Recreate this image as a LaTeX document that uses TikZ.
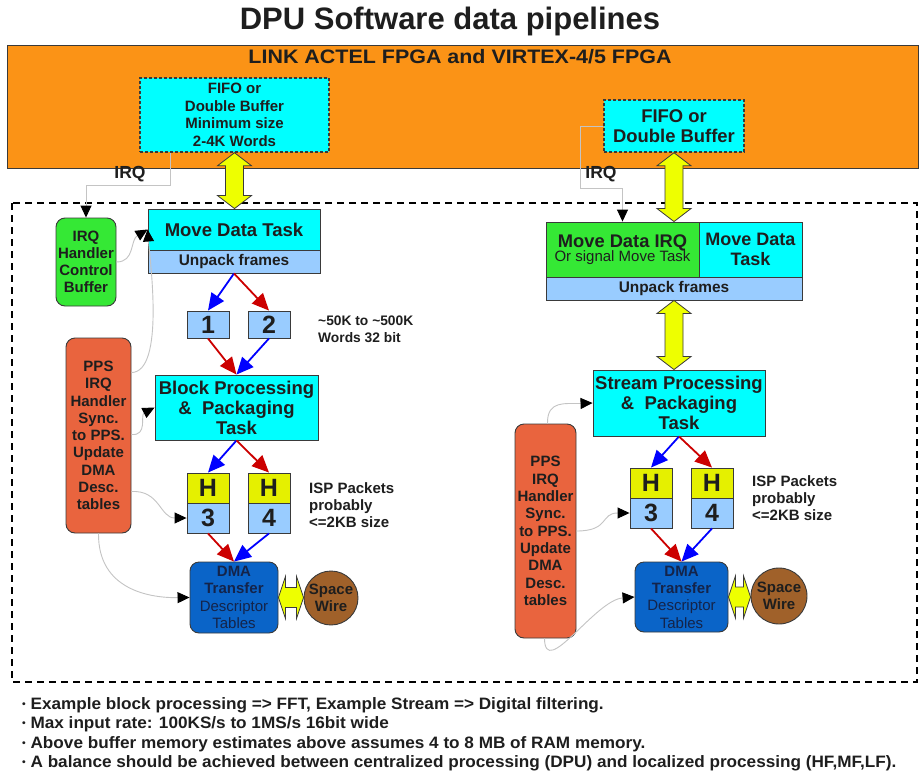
\documentclass[tikz,border=0pt]{standalone}
\usepackage{fontspec}
\setmainfont{Liberation Sans}
\usetikzlibrary{arrows.meta,calc}
\definecolor{orangebg}{HTML}{FB9316}
\definecolor{cyanc}{HTML}{00FFFF}
\definecolor{lblue}{HTML}{99CCFF}
\definecolor{greenc}{HTML}{35E835}
\definecolor{ppsc}{HTML}{E9643E}
\definecolor{dmac}{HTML}{0A64C8}
\definecolor{brownc}{HTML}{A0612A}
\definecolor{yarr}{HTML}{EEFF00}
\definecolor{hyel}{HTML}{E5F000}
\definecolor{redarr}{HTML}{CC0000}
\definecolor{bluearr}{HTML}{0000FF}
\definecolor{txt}{HTML}{1E1E1E}
\definecolor{boxline}{HTML}{3A3A3A}
\definecolor{grayline}{HTML}{C4C4C4}
\definecolor{dmatxt}{HTML}{14244A}
\newcommand\fsb[2]{\fontsize{#1}{#2}\selectfont\bfseries}
\newcommand\smbul{\raisebox{1.3pt}{\fontsize{10}{10}\selectfont\textbullet}}
\newcommand\vdarr[2]{\filldraw[yarrst] let \p1=#1,\p2=#2 in
 (\x1,\y1) -- (\x1+17pt,\y1-13pt) -- (\x1+9pt,\y1-13pt) -- (\x1+9pt,\y2+13pt) -- (\x1+17pt,\y2+13pt)
 -- (\x1,\y2) -- (\x1-17pt,\y2+13pt) -- (\x1-9pt,\y2+13pt) -- (\x1-9pt,\y1-13pt) -- (\x1-17pt,\y1-13pt) -- cycle;}
\newcommand\hdarr[2]{\filldraw[yarrst] let \p1=#1,\p2=#2 in
 (\x1,\y1) -- (\x1+7pt,\y1+21pt) -- (\x1+7pt,\y1+10pt) -- (\x2-7pt,\y1+10pt) -- (\x2-7pt,\y1+21pt)
 -- (\x2,\y1) -- (\x2-7pt,\y1-21pt) -- (\x2-7pt,\y1-10pt) -- (\x1+7pt,\y1-10pt) -- (\x1+7pt,\y1-21pt) -- cycle;}
\begin{document}
\begin{tikzpicture}[x=1pt,y=-1pt,
  box/.style={draw=boxline, line width=0.9pt, inner sep=0pt, align=center, text=txt},
  rbox/.style={box, rounded corners=9pt},
  yarrst/.style={fill=yarr, draw=boxline, line width=0.8pt},
  rarr/.style={draw=redarr, line width=1.8pt, -{Triangle[length=17pt,width=15pt]}},
  barr/.style={draw=bluearr, line width=1.8pt, -{Triangle[length=17pt,width=15pt]}},
  gline/.style={draw=grayline, line width=0.9pt, -{Triangle[length=12pt,width=11pt,color=black,fill=black]}},
  lbl/.style={text=txt, align=left, inner sep=0pt},
  bul/.style={text=txt, anchor=west, inner sep=0pt}]
\useasboundingbox (0,0) rectangle (919,774);
\fill[white] (0,0) rectangle (919,774);

% title and FPGA band
\node[text=txt, font=\fsb{31}{31}] (title) at (450,21) {DPU Software data pipelines};
\node[draw=boxline, line width=0.9pt, fill=orangebg, minimum width=911pt, minimum height=123pt, inner sep=0pt] (fpga) at (462.5,106.5) {};
\node[text=txt, font=\fsb{19.5}{20}] (link) at (460,57) {\scalebox{1.1}[1]{LINK ACTEL FPGA and VIRTEX-4/5 FPGA}};
\node[box, fill=cyanc, dashed, line width=1.5pt, dash pattern=on 3pt off 2pt, minimum width=189pt, minimum height=74pt, font=\fsb{15}{17.5}] (fifoL) at (234.5,115) {FIFO or\\Double Buffer\\Minimum size\\2-4K Words};
\node[box, fill=cyanc, dashed, line width=1.5pt, dash pattern=on 3pt off 2pt, minimum width=140pt, minimum height=52pt, font=\fsb{18.4}{20}] (fifoR) at (674,126) {FIFO or\\Double Buffer};

% dashed software frame
\draw[line width=2.3pt, dash pattern=on 7pt off 5pt] (12,203) rectangle (917,682);

% ---------------- left pipeline ----------------
\node[box, fill=cyanc, minimum width=172pt, minimum height=41pt, font=\fsb{18.5}{20}] (mdt) at (234,229.5) {Move Data Task};
\node[box, fill=lblue, minimum width=172pt, minimum height=23pt, font=\fsb{15.4}{16}] (unpL) at (234,261.5) {Unpack frames};
\node[rbox, fill=greenc, minimum width=60pt, minimum height=88pt, font=\fsb{15}{17}] (irqh) at (86,262) {IRQ\\Handler\\Control\\Buffer};
\node[box, fill=lblue, minimum width=42pt, minimum height=27pt, font=\fsb{25}{25}] (b1) at (208,324.5) {1};
\node[box, fill=lblue, minimum width=42pt, minimum height=27pt, font=\fsb{25}{25}] (b2) at (269,324.5) {2};
\node[lbl, anchor=north west, font=\fsb{13.8}{17}] (wordsL) at (318,316) {\textasciitilde50K to \textasciitilde500K\\Words 32 bit};
\node[box, fill=cyanc, minimum width=163pt, minimum height=65pt, font=\fsb{18.5}{20}] (bp) at (236.5,407.5) {Block Processing\\\&\ \ Packaging\\Task};
\node[rbox, fill=ppsc, minimum width=65pt, minimum height=195pt, font=\fsb{15}{17.3}] (ppsL) at (98.5,435.5) {PPS\\IRQ\\Handler\\Sync.\\to PPS.\\Update\\DMA\\Desc.\\tables};
\node[box, fill=hyel, minimum width=42pt, minimum height=30pt, font=\fsb{25}{25}] (h3) at (208,488) {H};
\node[box, fill=lblue, minimum width=42pt, minimum height=30pt, font=\fsb{25}{25}] (n3) at (208,518) {3};
\node[box, fill=hyel, minimum width=42pt, minimum height=30pt, font=\fsb{25}{25}] (h4) at (269,488) {H};
\node[box, fill=lblue, minimum width=42pt, minimum height=30pt, font=\fsb{25}{25}] (n4) at (269,518) {4};
\node[lbl, anchor=north west, font=\fsb{15}{17}] (ispL) at (309,482) {ISP Packets\\probably\\<=2KB size};
\node[rbox, fill=dmac, minimum width=88pt, minimum height=71pt, text=dmatxt, font=\fontsize{15}{17.3}\selectfont] (dmaL) at (234,597.5) {\textbf{DMA}\\\textbf{Transfer}\\Descriptor\\Tables};
\node[circle, draw=boxline, line width=0.9pt, fill=brownc, minimum size=54pt, inner sep=0pt, align=center, text=txt, font=\fsb{15}{17}] (swL) at (331,598) {Space\\Wire};

% ---------------- right pipeline ----------------
\node[box, fill=greenc, minimum width=153pt, minimum height=55pt] (mdirq) at (622.5,249.5) {{\fsb{18.3}{20}Move Data IRQ}\\[-1pt]{\fontsize{15}{17}\selectfont Or signal Move Task}};
\node[box, fill=cyanc, minimum width=103pt, minimum height=55pt, font=\fsb{18}{20}] (mdtR) at (750.5,249.5) {Move Data\\Task};
\node[box, fill=lblue, minimum width=256pt, minimum height=23pt, font=\fsb{15.4}{16}] (unpR) at (674,288.5) {Unpack frames};
\node[box, fill=cyanc, minimum width=172pt, minimum height=66pt, font=\fsb{18.5}{20}] (sp) at (679,403) {Stream Processing\\\&\ \ Packaging\\Task};
\node[rbox, fill=ppsc, minimum width=61pt, minimum height=214pt, font=\fsb{15}{17.3}] (ppsR) at (545.5,531) {PPS\\IRQ\\Handler\\Sync.\\to PPS.\\Update\\DMA\\Desc.\\tables};
\node[box, fill=hyel, minimum width=42pt, minimum height=30pt, font=\fsb{25}{25}] (h3R) at (651,483) {H};
\node[box, fill=lblue, minimum width=42pt, minimum height=30pt, font=\fsb{25}{25}] (n3R) at (651,513) {3};
\node[box, fill=hyel, minimum width=42pt, minimum height=30pt, font=\fsb{25}{25}] (h4R) at (712,483) {H};
\node[box, fill=lblue, minimum width=42pt, minimum height=30pt, font=\fsb{25}{25}] (n4R) at (712,513) {4};
\node[lbl, anchor=north west, font=\fsb{15}{17}] (ispR) at (752,475) {ISP Packets\\probably\\<=2KB size};
\node[rbox, fill=dmac, minimum width=93pt, minimum height=70pt, text=dmatxt, font=\fontsize{15}{17.3}\selectfont] (dmaR) at (681.5,597) {\textbf{DMA}\\\textbf{Transfer}\\Descriptor\\Tables};
\node[circle, draw=boxline, line width=0.9pt, fill=brownc, minimum size=56pt, inner sep=0pt, align=center, text=txt, font=\fsb{15}{17}] (swR) at (779,596) {Space\\Wire};

% ---------------- IRQ lines ----------------
\draw[gline] ([xshift=31pt]fifoL.south west) -- ++(0,33) -| (irqh.north);
\node[text=txt, font=\fsb{17.5}{18}] (irqLt) at (130,174) {IRQ};
\draw[gline] (fifoR.west) -- ++(-23,0) -- ++(0,62) -| (mdirq.north);
\node[text=txt, font=\fsb{17.5}{18}] (irqRt) at (601,174) {IRQ};

% ---------------- yellow double arrows ----------------
\vdarr{(fifoL.south)}{(mdt.north)}
\vdarr{(fifoR.south)}{(fifoR.south |- mdirq.north)}
\vdarr{(unpR.south)}{(unpR.south |- sp.north)}
\hdarr{(dmaL.east)}{(swL.west)}
\hdarr{(dmaR.east)}{(swR.west)}

% ---------------- red / blue flow arrows ----------------
\draw[barr] (unpL.south) -- (b1.north);
\draw[rarr] (unpL.south) -- (b2.north);
\draw[rarr] (b1.south) -- (bp.north);
\draw[barr] (b2.south) -- (bp.north);
\draw[barr] (bp.south) -- (h3.north);
\draw[rarr] (bp.south) -- (h4.north);
\draw[rarr] (n3.south) -- (dmaL.north);
\draw[barr] (n4.south) -- (dmaL.north);
\draw[barr] (sp.south) -- (h3R.north);
\draw[rarr] (sp.south) -- (h4R.north);
\draw[rarr] (n3R.south) -- (dmaR.north);
\draw[barr] (n4R.south) -- (dmaR.north);

% ---------------- gray control curves ----------------
\draw[gline] (irqh.east) .. controls (135,262) and (130,240) .. (mdt.west);
\draw[gline] ([yshift=-35pt]ppsL.north east) .. controls (165,372) and (150,260) .. (mdt.west);
\draw[gline] ([yshift=1pt]ppsL.east) .. controls (148,436) and (140,415) .. (bp.west);
\draw[gline] ([yshift=-56pt]ppsL.east) .. controls (160,490) and (160,518) .. (n3.west);
\draw[gline] (ppsL.south) .. controls (98,590) and (150,598) .. (dmaL.west);
\draw[gline] ([xshift=2pt]ppsR.north) .. controls (547,400) and (565,404) .. (sp.west);
\draw[gline] (ppsR.east) .. controls (610,531) and (600,513) .. (n3R.west);
\draw[gline] ([xshift=-1pt]ppsR.south) .. controls (545,680) and (595,600) .. (dmaR.west);

% ---------------- bullets ----------------
\node[bul, font=\fsb{16.5}{17}] (l1) at (22,705) {\scalebox{1.04}[1]{\smbul\ Example block processing => FFT, Example Stream => Digital filtering.}};
\node[bul, font=\fsb{16.5}{17}] (l2) at (22,724) {\scalebox{1.04}[1]{\smbul\ Max input rate: 100KS/s to 1MS/s 16bit wide}};
\node[bul, font=\fsb{16.5}{17}] (l3) at (22,744) {\scalebox{1.04}[1]{\smbul\ Above buffer memory estimates above assumes 4 to 8 MB of RAM memory.}};
\node[bul, font=\fsb{16.5}{17}] (l4) at (22,763) {\scalebox{1.04}[1]{\smbul\ A balance should be achieved between centralized processing (DPU) and localized processing (HF,MF,LF).}};
\end{tikzpicture}
\end{document}
